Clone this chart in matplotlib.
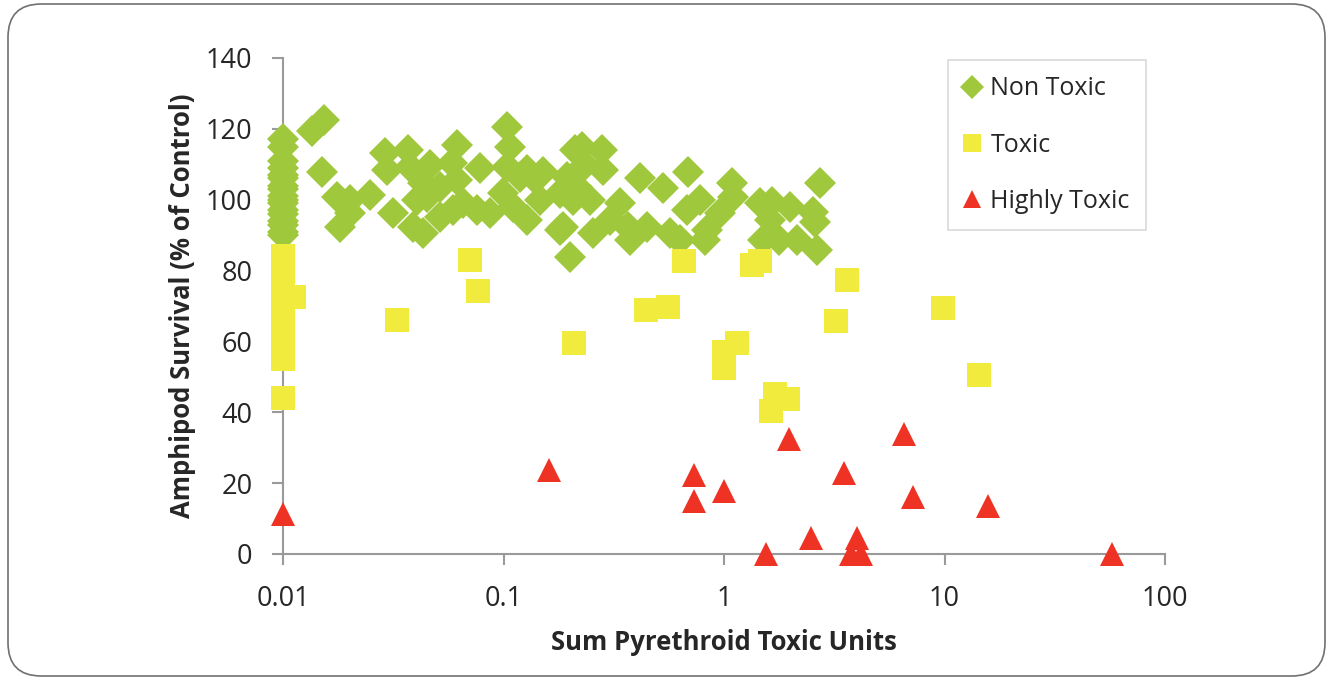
import numpy as np
import matplotlib
matplotlib.use("Agg")
import matplotlib.pyplot as plt
from matplotlib.patches import FancyBboxPatch

plt.rcParams["font.family"] = ["Open Sans", "DejaVu Sans"]

GREEN = "#A0C83C"
YELLOW = "#F0EB3C"
RED = "#EE3224"

# Non toxic samples: toxic units, survival (% of control)
non_toxic_x = [0.01] * 17 + [
    0.0135, 0.0153, 0.015, 0.0176, 0.0201, 0.0201, 0.0181, 0.0248, 0.029, 0.0369,
    0.0296, 0.0377, 0.0315, 0.0389, 0.0432, 0.0405, 0.0432, 0.0464, 0.0584, 0.0615,
    0.0615, 0.045, 0.0515, 0.078, 0.0655, 0.0758, 0.087, 0.059, 0.0515, 0.1037,
    0.107, 0.1037, 0.119, 0.136, 0.128, 0.0995, 0.146, 0.194, 0.180, 0.207,
    0.128, 0.110, 0.180, 0.200, 0.211, 0.227, 0.280, 0.234, 0.283, 0.416,
    0.529, 0.687, 0.216, 0.247, 0.338, 0.304, 0.367, 0.448, 0.255, 0.375,
    0.569, 0.631, 0.679, 0.778, 0.837, 0.959, 1.087, 1.10, 1.457, 1.65,
    1.99, 1.62, 2.53, 2.59, 2.72, 1.50, 1.77, 2.14, 2.63, 0.82,
    0.186, 0.151,
]
non_toxic_y = [117, 115, 111, 109, 107, 106, 104, 103, 101, 100,
               99, 97, 96, 94, 93, 91, 90] + [
    119.4, 122.5, 107.8, 100.8, 99.9, 96.2, 92.3, 101.3, 113.2, 114.0,
    108.4, 109.2, 96.2, 92.3, 104.7, 99.9, 90.6, 109.8, 110.4, 115.4,
    105.6, 100.8, 103.6, 108.9, 99.1, 97.1, 96.2, 97.1, 95.1, 120.5,
    114.9, 109.2, 106.4, 106.4, 108.4, 101.9, 99.9, 106.4, 101.9, 99.9,
    94.3, 97.9, 91.4, 83.8, 114.0, 114.9, 114.0, 109.8, 108.4, 106.1,
    103.3, 107.8, 103.6, 99.9, 99.1, 94.3, 92.3, 92.3, 90.6, 88.6,
    90.6, 88.6, 97.1, 99.9, 91.4, 96.2, 104.7, 100.8, 99.1, 99.4,
    97.9, 94.3, 96.5, 93.7, 104.7, 88.6, 88.6, 88.6, 85.8, 88.6,
    92.3, 107.8,
]

# Toxic samples
toxic_x = [0.01] * 12 + [
    0.0112, 0.0329, 0.0705, 0.0766, 0.209, 0.445, 0.557, 0.66, 1.34, 1.46,
    3.61, 3.22, 9.84, 14.3, 1.0, 1.145, 1.0, 1.70, 1.95, 1.63,
]
toxic_y = [84, 81, 78, 75, 72, 69, 66, 63, 60, 57, 55, 44] + [
    72.5, 66.0, 83.0, 74.2, 59.6, 68.9, 69.7, 82.7, 81.6, 82.7,
    77.3, 65.8, 69.4, 50.5, 57.0, 59.6, 52.5, 45.2, 43.7, 40.4,
]

# Highly toxic samples
highly_toxic_x = [0.01, 0.161, 0.731, 0.731, 1.0, 1.97, 3.50, 6.55, 7.2,
                  1.55, 2.48, 4.01, 3.75, 4.2, 15.7, 57.5]
highly_toxic_y = [11.3, 23.7, 22.3, 15.0, 17.8, 32.5, 22.9, 33.9, 16.1,
                  0.0, 4.5, 4.5, 0.0, 0.0, 13.5, 0.0]

y_ticks = [0, 20, 40, 60, 80, 100, 120, 140]
x_ticks = [0.01, 0.1, 1, 10, 100]
x_tick_labels = ["0.01", "0.1", "1", "10", "100"]

fig = plt.figure(figsize=(13.31, 6.79), dpi=100)
frame = FancyBboxPatch((8 / 1331, 3 / 679), 1317 / 1331, 672 / 679,
                       boxstyle="round,pad=0,rounding_size=0.025",
                       transform=fig.transFigure, facecolor="none",
                       edgecolor="#707070", linewidth=1.2,
                       mutation_aspect=1331 / 679, zorder=-1)
fig.patches.append(frame)

ax = fig.add_axes([283 / 1331, 1 - 554 / 679, 882 / 1331, 496 / 679])
ax.set_facecolor("none")

ax.plot(non_toxic_x, non_toxic_y, linestyle="none", marker="D", markersize=16.5,
        color=GREEN, markeredgewidth=0, label="Non Toxic", clip_on=False, zorder=3)
ax.plot(toxic_x, toxic_y, linestyle="none", marker="s", markersize=17,
        color=YELLOW, markeredgewidth=0, label="Toxic", clip_on=False, zorder=4)
ax.plot(highly_toxic_x, highly_toxic_y, linestyle="none", marker="^", markersize=17.5,
        color=RED, markeredgewidth=0, label="Highly Toxic", clip_on=False, zorder=5)

ax.set_xscale("log")
ax.set_xlim(0.01, 100)
ax.set_ylim(0, 140)
ax.set_xticks(x_ticks)
ax.set_xticklabels(x_tick_labels)
ax.minorticks_off()
ax.set_yticks(y_ticks)

for side in ["top", "right"]:
    ax.spines[side].set_visible(False)
for side in ["left", "bottom"]:
    ax.spines[side].set_color("#9A9A9A")
    ax.spines[side].set_linewidth(1.5)
ax.tick_params(axis="both", colors="#9A9A9A", labelcolor="#262626",
               labelsize=19.5, width=1.5, length=8, direction="out")
ax.tick_params(axis="x", pad=14)
ax.tick_params(axis="y", pad=14)

ax.set_xlabel("Sum Pyrethroid Toxic Units", fontsize=18.5, fontweight="bold",
              color="#262626", labelpad=12)
ax.set_ylabel("Amphipod Survival (% of Control)", fontsize=18.5, fontweight="bold",
              color="#262626", labelpad=7)

leg = ax.legend(loc="upper left", bbox_to_anchor=(948 / 1331, 1 - 60 / 679),
                bbox_transform=fig.transFigure, frameon=True, fancybox=False,
                markerscale=0.75, fontsize=18, handlelength=0.6, handletextpad=0.45,
                labelspacing=1.25, borderpad=0.65, borderaxespad=0)
leg.get_frame().set_edgecolor("#D0D0D0")
leg.get_frame().set_linewidth(1.2)
for t in leg.get_texts():
    t.set_color("#262626")

fig.savefig("out.png", dpi=100)
